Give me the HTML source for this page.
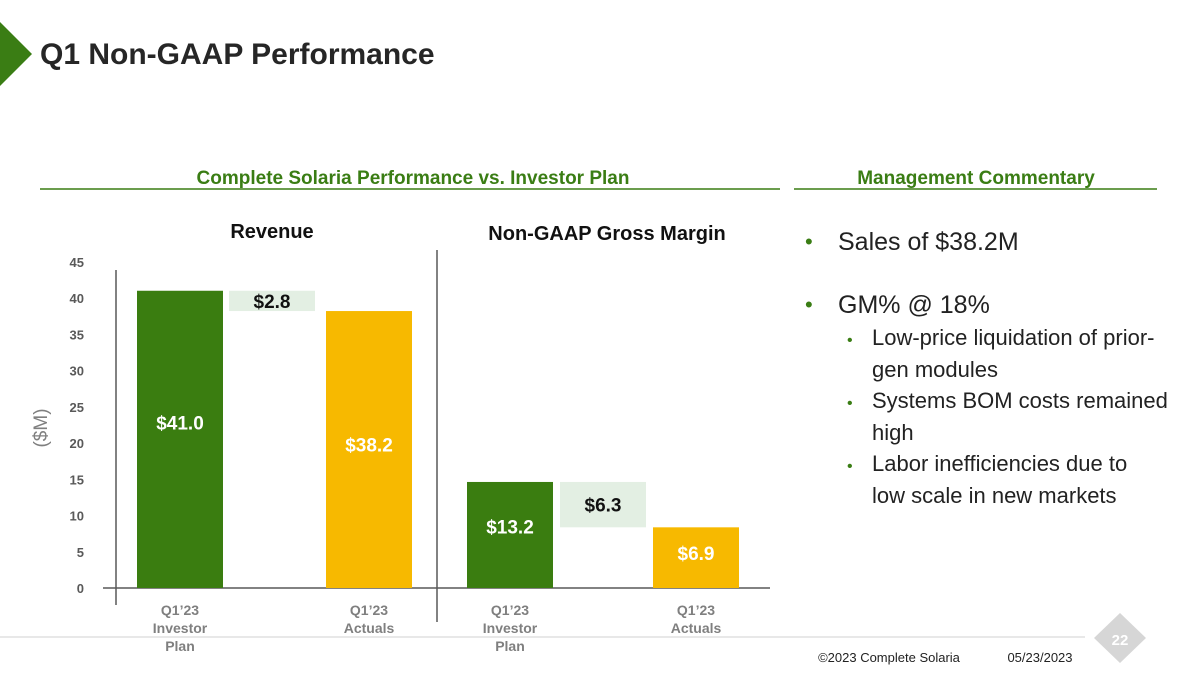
<!DOCTYPE html>
<html><head><meta charset="utf-8"><style>
body{margin:0;width:1200px;height:675px;background:#fff;overflow:hidden;font-family:"Liberation Sans",sans-serif;position:relative}
.a{position:absolute}
</style></head><body>
<svg class="a" style="left:0;top:0" width="1200" height="675">
<polygon points="0,22 32,54 0,86" fill="#3a7d14"/>
<text x="40" y="64" font-size="30" font-weight="bold" fill="#262626" font-family="Liberation Sans">Q1 Non-GAAP Performance</text>
<text x="413" y="184" text-anchor="middle" font-size="19" font-weight="bold" fill="#3a7d14">Complete Solaria Performance vs. Investor Plan</text>
<line x1="40" y1="189" x2="780" y2="189" stroke="#3a7d14" stroke-width="1.5"/>
<text x="976" y="184" text-anchor="middle" font-size="19" font-weight="bold" fill="#3a7d14">Management Commentary</text>
<line x1="794" y1="189" x2="1157" y2="189" stroke="#3a7d14" stroke-width="1.5"/>
<g id="chart"></g>
<g font-size="22" fill="#222" font-family="Liberation Sans">
<text x="805" y="249" fill="#3a7d14">•</text><text x="838" y="250" font-size="25">Sales of $38.2M</text>
<text x="805" y="312" fill="#3a7d14">•</text><text x="838" y="313" font-size="25">GM% @ 18%</text>
<text x="847" y="345" fill="#3a7d14" font-size="16">•</text><text x="872" y="345">Low-price liquidation of prior-</text>
<text x="872" y="377">gen modules</text>
<text x="847" y="408" fill="#3a7d14" font-size="16">•</text><text x="872" y="408">Systems BOM costs remained</text>
<text x="872" y="440">high</text>
<text x="847" y="471" fill="#3a7d14" font-size="16">•</text><text x="872" y="471">Labor inefficiencies due to</text>
<text x="872" y="503">low scale in new markets</text>
</g>
<line x1="0" y1="637" x2="1085" y2="637" stroke="#d0d0d0" stroke-width="1"/>
<polygon points="1120,613 1146,638 1120,663 1094,638" fill="#d6d6d6"/>
<text x="1120" y="645" text-anchor="middle" font-size="15" font-weight="bold" fill="#fff">22</text>
<text x="889" y="662" text-anchor="middle" font-size="13" fill="#222">©2023 Complete Solaria</text>
<text x="1040" y="662" text-anchor="middle" font-size="13" fill="#222">05/23/2023</text>
</svg>
<script>
const ticks=[0,5,10,15,20,25,30,35,40,45];
const revCats=["Q1’23|Investor|Plan","Q1’23|Actuals"];
const revValues=[41.0,38.2];
const gmCats=["Q1’23|Investor|Plan","Q1’23|Actuals"];
const gmValues=[13.2,6.9];
const NS="http://www.w3.org/2000/svg";
const g=document.getElementById('chart');
function el(t,a,txt){const e=document.createElementNS(NS,t);for(const k in a)e.setAttribute(k,a[k]);if(txt!=null)e.textContent=txt;g.appendChild(e);return e;}
const y0=588;
const yRev=v=>y0-v*7.25;
const yGm=v=>y0-v*7.2-11;
for(const t of ticks){const e=el('text',{x:84,y:yRev(t)+5,'text-anchor':'end','font-size':13,'font-weight':'bold',fill:'#595959'},t);

}
const yt=el('text',{x:0,y:0,transform:'translate(47,428) rotate(-90)','text-anchor':'middle','font-size':19,fill:'#7f7f7f'},'($M)');


el('line',{x1:116,y1:270,x2:116,y2:605,stroke:'#595959','stroke-width':1.5});
el('line',{x1:103,y1:y0,x2:770,y2:y0,stroke:'#595959','stroke-width':1.5});
el('line',{x1:437,y1:250,x2:437,y2:622,stroke:'#595959','stroke-width':1.5});
let h=el('text',{x:272,y:238,'text-anchor':'middle','font-size':20,'font-weight':'bold',fill:'#111'},'Revenue');

h=el('text',{x:607,y:240,'text-anchor':'middle','font-size':20,'font-weight':'bold',fill:'#111'},'Non-GAAP Gross Margin');

function panel(vals,cats,ys,xs,gapX,name,dy){
  const cols=['#3a7d10','#f7b900'];
  vals.forEach((v,i)=>{
    const r=el('rect',{x:xs[i],y:ys(v),width:86,height:y0-ys(v),fill:cols[i]});
    
    
    const l=el('text',{x:xs[i]+43,y:ys(v/2)+dy[i],'text-anchor':'middle','font-size':19,'font-weight':'bold',fill:'#fff'},'$'+v.toFixed(1));
    
    
    cats[i].split('|').forEach((s,j)=>{const c=el('text',{x:xs[i]+43,y:615+j*18,'text-anchor':'middle','font-size':14,'font-weight':'bold',fill:'#7f7f7f'},s);
      });
  });
  const d=vals[0]-vals[1];
  const b=el('rect',{x:gapX,y:ys(vals[0]),width:86,height:ys(vals[1])-ys(vals[0]),fill:'#e3efe3'});
  
  const t=el('text',{x:gapX+43,y:(ys(vals[0])+ys(vals[1]))/2+7,'text-anchor':'middle','font-size':19,'font-weight':'bold',fill:'#111'},'$'+d.toFixed(1));
  
}
panel(revValues,revCats,yRev,[137,326],229,'revenue',[-10,2]);
panel(gmValues,gmCats,yGm,[467,653],560,'gm',[4,8]);
</script>
</body></html>
